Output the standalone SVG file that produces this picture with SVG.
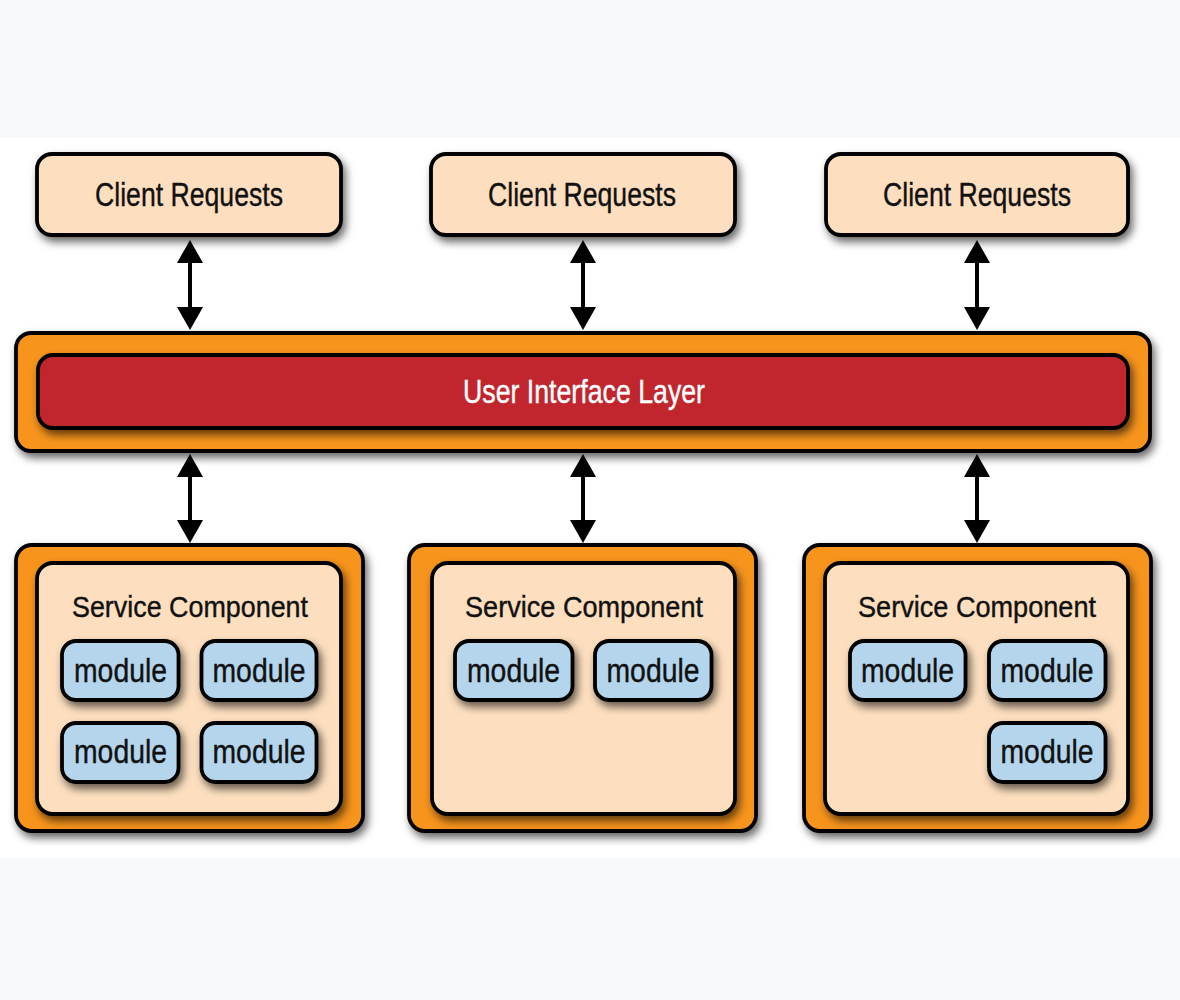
<svg xmlns="http://www.w3.org/2000/svg" width="1180" height="1000" viewBox="0 0 1180 1000">
  <defs>
    <filter id="sh" x="-10%" y="-10%" width="125%" height="135%">
      <feDropShadow dx="3" dy="5" stdDeviation="4" flood-color="#000" flood-opacity="0.6"/>
    </filter>
    <marker id="ah" viewBox="0 0 23 26" refX="3" refY="13" markerWidth="23" markerHeight="26" markerUnits="userSpaceOnUse" orient="auto-start-reverse">
      <path d="M0,0 L23,13 L0,26 z" fill="#000"/>
    </marker>
    <style>
      .box { stroke: #000; stroke-width: 3.8; filter: url(#sh); }
      .client { fill: #fddfbf; }
      .orange { fill: #f7941d; }
      .red { fill: #c1272d; }
      .inner { fill: #fddfbf; }
      .mod { fill: #b4d5ec; }
      .t { font-family: "Liberation Sans", Arial, sans-serif; fill: #111; stroke: #111; stroke-width: 0.4; }
      .tc { font-size: 34px; }
      .ts { font-size: 30px; }
      .tm { font-size: 34px; }
      .tu { font-size: 34px; fill: #fff; stroke: #fff; }
      .conn { stroke: #000; stroke-width: 4; fill: none; marker-start: url(#ah); marker-end: url(#ah); }
    </style>
  </defs>

  <rect x="0" y="0" width="1180" height="1000" fill="#ffffff"/>
  <rect x="0" y="0" width="1180" height="138" fill="#f8f9fb"/>
  <rect x="0" y="858" width="1180" height="142" fill="#f8f9fb"/>

  <g id="client1">
    <rect class="box client" x="37" y="154" width="304" height="81" rx="15"/>
    <text class="t tc" x="95" y="206" textLength="188" lengthAdjust="spacingAndGlyphs">Client Requests</text>
  </g>
  <g id="client2">
    <rect class="box client" x="431" y="154" width="304" height="81" rx="15"/>
    <text class="t tc" x="488" y="206" textLength="188" lengthAdjust="spacingAndGlyphs">Client Requests</text>
  </g>
  <g id="client3">
    <rect class="box client" x="826" y="154" width="302" height="81" rx="15"/>
    <text class="t tc" x="883" y="206" textLength="188" lengthAdjust="spacingAndGlyphs">Client Requests</text>
  </g>

  <g id="ui-layer">
    <rect class="box orange" x="16" y="333" width="1134" height="118" rx="15"/>
    <rect class="box red" x="38" y="355" width="1090" height="73" rx="15"/>
    <text class="t tu" x="463" y="403" textLength="242" lengthAdjust="spacingAndGlyphs">User Interface Layer</text>
  </g>

  <g id="service1">
    <rect class="box orange" x="16" y="545" width="347" height="286" rx="16"/>
    <rect class="box inner" x="37" y="563" width="304" height="251" rx="16"/>
    <text class="t ts" x="72" y="617" textLength="236" lengthAdjust="spacingAndGlyphs">Service Component</text>
    <g id="s1m1"><rect class="box mod" x="62" y="641" width="116.5" height="59" rx="14"/><text class="t tm" x="74" y="682" textLength="93" lengthAdjust="spacingAndGlyphs">module</text></g>
    <g id="s1m2"><rect class="box mod" x="201.5" y="641" width="115" height="59" rx="14"/><text class="t tm" x="212.5" y="682" textLength="93" lengthAdjust="spacingAndGlyphs">module</text></g>
    <g id="s1m3"><rect class="box mod" x="62" y="723" width="116.5" height="59" rx="14"/><text class="t tm" x="74" y="763" textLength="93" lengthAdjust="spacingAndGlyphs">module</text></g>
    <g id="s1m4"><rect class="box mod" x="201.5" y="723" width="115" height="59" rx="14"/><text class="t tm" x="212.5" y="763" textLength="93" lengthAdjust="spacingAndGlyphs">module</text></g>
  </g>

  <g id="service2">
    <rect class="box orange" x="409" y="545" width="347" height="286" rx="16"/>
    <rect class="box inner" x="432" y="563" width="303" height="251" rx="16"/>
    <text class="t ts" x="465" y="617" textLength="238" lengthAdjust="spacingAndGlyphs">Service Component</text>
    <g id="s2m1"><rect class="box mod" x="455" y="641" width="117.5" height="59" rx="14"/><text class="t tm" x="467" y="682" textLength="93" lengthAdjust="spacingAndGlyphs">module</text></g>
    <g id="s2m2"><rect class="box mod" x="595" y="641" width="116.5" height="59" rx="14"/><text class="t tm" x="606.5" y="682" textLength="93" lengthAdjust="spacingAndGlyphs">module</text></g>
  </g>

  <g id="service3">
    <rect class="box orange" x="804" y="545" width="347" height="286" rx="16"/>
    <rect class="box inner" x="825" y="563" width="303" height="251" rx="16"/>
    <text class="t ts" x="858" y="617" textLength="238" lengthAdjust="spacingAndGlyphs">Service Component</text>
    <g id="s3m1"><rect class="box mod" x="850" y="641" width="115.5" height="59" rx="14"/><text class="t tm" x="861" y="682" textLength="93" lengthAdjust="spacingAndGlyphs">module</text></g>
    <g id="s3m2"><rect class="box mod" x="989" y="641" width="116.5" height="59" rx="14"/><text class="t tm" x="1000.5" y="682" textLength="93" lengthAdjust="spacingAndGlyphs">module</text></g>
    <g id="s3m3"><rect class="box mod" x="989" y="723" width="116.5" height="59" rx="14"/><text class="t tm" x="1000.5" y="763" textLength="93" lengthAdjust="spacingAndGlyphs">module</text></g>
  </g>

  <g id="connectors">
    <line class="conn" x1="190" y1="260" x2="190" y2="310"/>
    <line class="conn" x1="583" y1="260" x2="583" y2="310"/>
    <line class="conn" x1="977" y1="260" x2="977" y2="310"/>
    <line class="conn" x1="190" y1="474" x2="190" y2="523"/>
    <line class="conn" x1="583" y1="474" x2="583" y2="523"/>
    <line class="conn" x1="977" y1="474" x2="977" y2="523"/>
  </g>
</svg>
